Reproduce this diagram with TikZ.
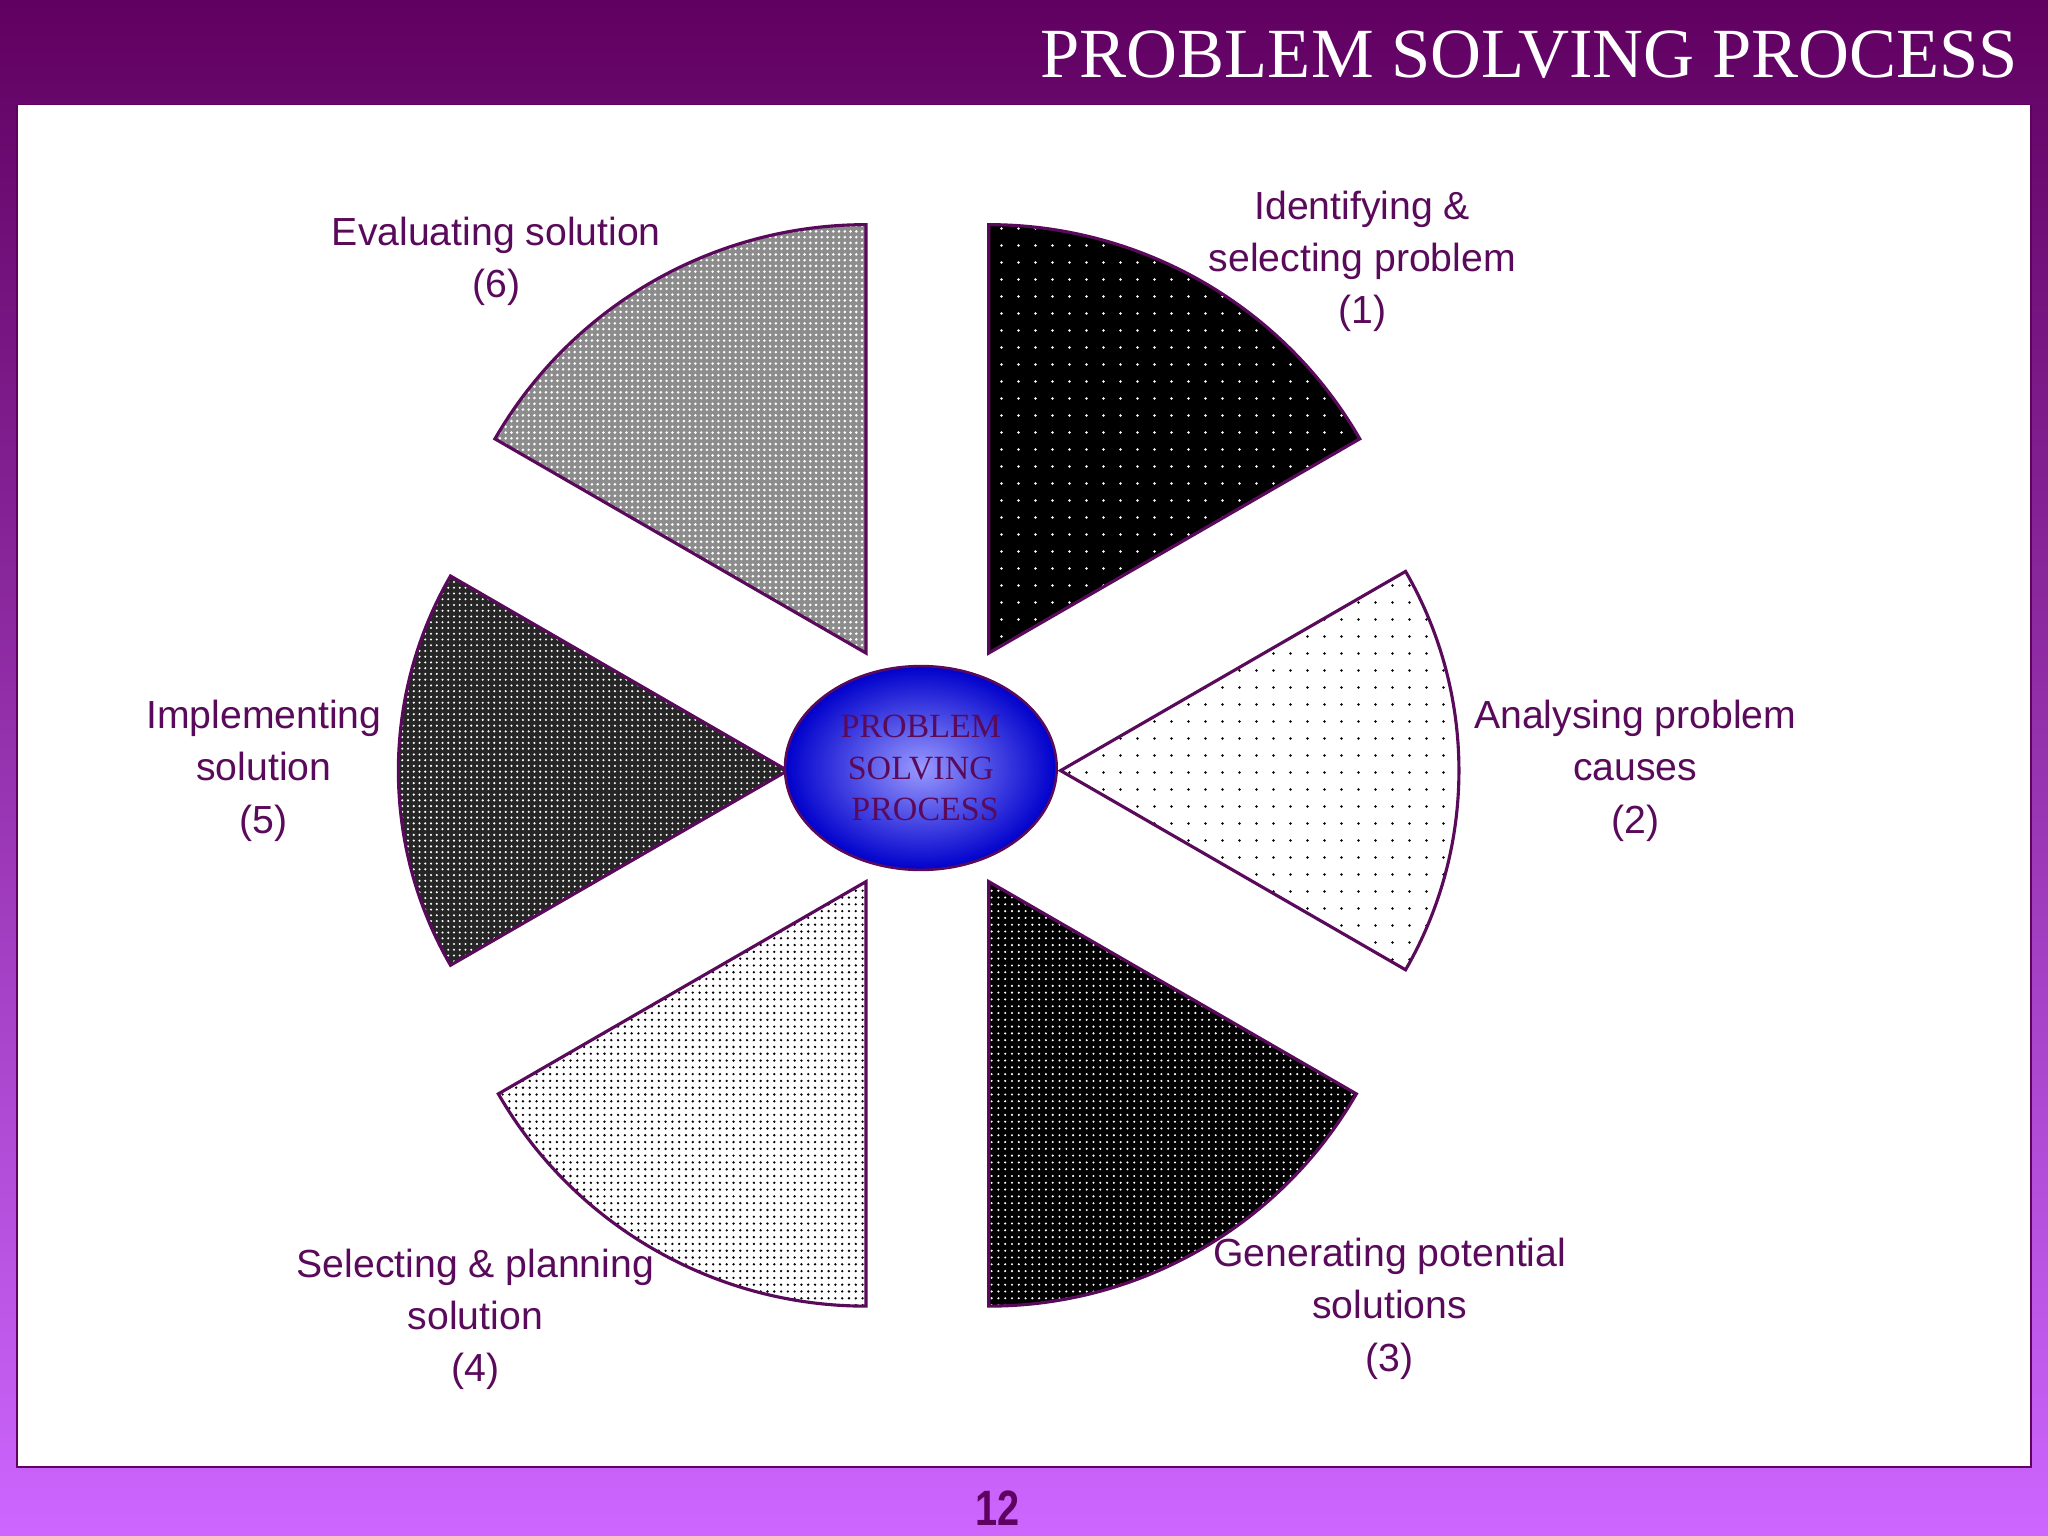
\documentclass[tikz,border=0pt]{standalone}
\usepackage{fontspec}
\setmainfont{Liberation Serif}
\setsansfont{Liberation Sans}
\usetikzlibrary{patterns.meta,shadings}
\definecolor{pdark}{HTML}{600060}
\definecolor{plight}{HTML}{CC66FF}
\definecolor{ptext}{HTML}{5A0A5A}
\tikzset{
  sector/.style={draw=ptext, line width=1.2pt},
  lbl/.style={font=\sffamily\fontsize{15}{20}\selectfont, text=ptext, align=center},
}
\begin{document}
\begin{tikzpicture}[x=0.5pt,y=-0.5pt]
\useasboundingbox (0,0) rectangle (1568,1176);
\shade[top color=pdark, bottom color=plight] (0,0) rectangle (1568,1176);
\fill[white] (13,80) rectangle (1555,1123);
\draw[pdark, line width=0.6pt] (13,80) rectangle (1555,1123);
\node[anchor=east, text=white, font=\fontsize{27}{30}\selectfont] (title) at (1552,42) {PROBLEM SOLVING PROCESS};
\node[text=pdark, font=\sffamily\bfseries\fontsize{19}{20}\selectfont, xscale=0.8] (page) at (764,1155) {12};
% sector 1
\fill[black] (757,500) -- ++(-90:328) arc[start angle=-90,end angle=-30,radius=328] -- cycle;
\fill[pattern={Dots[distance=6.5pt,radius=0.55pt]}, pattern color=white] (757,500) -- ++(-90:328) arc[start angle=-90,end angle=-30,radius=328] -- cycle;
\draw[sector] (757,500) -- ++(-90:328) arc[start angle=-90,end angle=-30,radius=328] -- cycle;
% sector 2
\draw[sector, pattern={Dots[distance=6.5pt,radius=0.5pt]}, pattern color=black] (812,590) -- ++(-30:305) arc[start angle=-30,end angle=30,radius=305] -- cycle;
% sector 3
\fill[black] (757,675) -- ++(90:325) arc[start angle=90,end angle=30,radius=325] -- cycle;
\fill[pattern={Dots[distance=2.6pt,radius=0.45pt]}, pattern color=white] (757,675) -- ++(90:325) arc[start angle=90,end angle=30,radius=325] -- cycle;
\draw[sector] (757,675) -- ++(90:325) arc[start angle=90,end angle=30,radius=325] -- cycle;
% sector 4
\draw[sector, pattern={Dots[distance=2.6pt,radius=0.5pt]}, pattern color=black] (663,675) -- ++(90:325) arc[start angle=90,end angle=150,radius=325] -- cycle;
% sector 5
\fill[black!85] (603,590) -- ++(150:298) arc[start angle=150,end angle=210,radius=298] -- cycle;
\fill[pattern={Dots[distance=2.2pt,radius=0.45pt]}, pattern color=white] (603,590) -- ++(150:298) arc[start angle=150,end angle=210,radius=298] -- cycle;
\draw[sector] (603,590) -- ++(150:298) arc[start angle=150,end angle=210,radius=298] -- cycle;
% sector 6
\fill[black!45] (663,500) -- ++(-90:328) arc[start angle=-90,end angle=-150,radius=328] -- cycle;
\fill[pattern={Dots[distance=2.2pt,radius=0.55pt]}, pattern color=white] (663,500) -- ++(-90:328) arc[start angle=-90,end angle=-150,radius=328] -- cycle;
\draw[sector] (663,500) -- ++(-90:328) arc[start angle=-90,end angle=-150,radius=328] -- cycle;
% centre
\shade[inner color=white!60!blue, outer color=blue!80!black, draw=ptext, line width=1pt] (705,588) ellipse[x radius=104, y radius=78];
\node[text=ptext, font=\fontsize{13}{16}\selectfont, align=center] (centre) at (705,588) {PROBLEM\\SOLVING\\\ PROCESS};
% labels
\node[lbl] (l1) at (1043,200) {Identifying \&\\selecting problem\\(1)};
\node[lbl] (l2) at (1252,590) {Analysing problem\\causes\\(2)};
\node[lbl] (l3) at (1064,1002) {Generating potential\\solutions\\(3)};
\node[lbl] (l4) at (364,1010) {Selecting \& planning\\solution\\(4)};
\node[lbl] (l5) at (202,590) {Implementing\\solution\\(5)};
\node[lbl] (l6) at (380,200) {Evaluating solution\\(6)};
\end{tikzpicture}
\end{document}
